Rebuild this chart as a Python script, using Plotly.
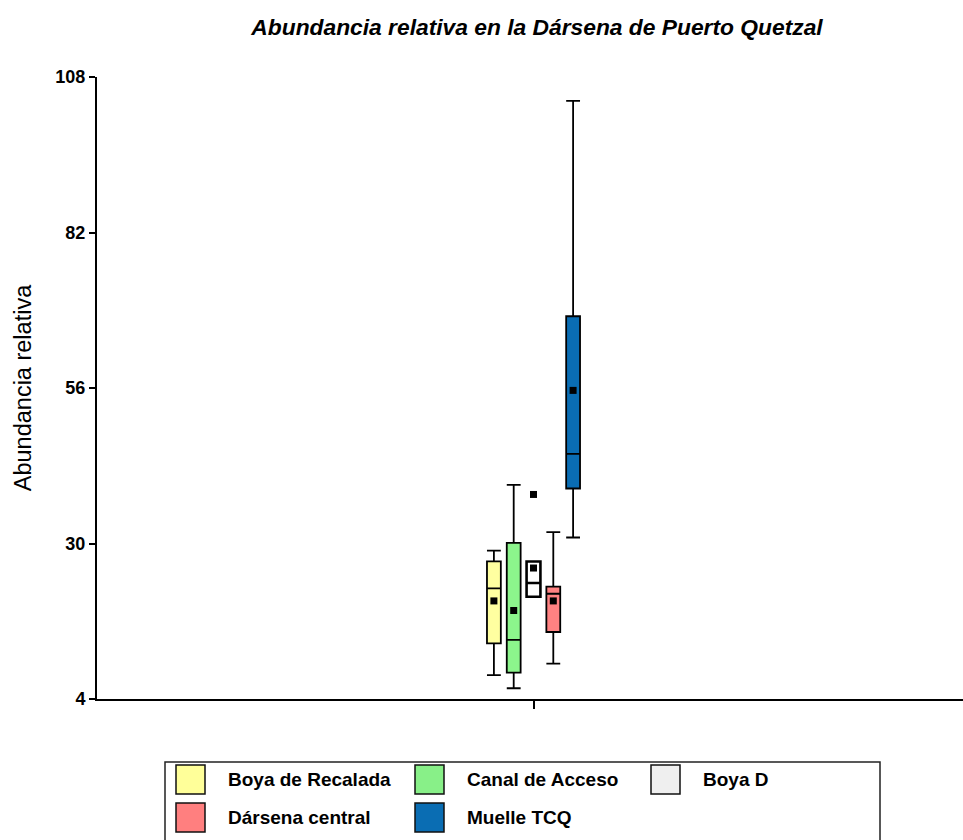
import plotly.graph_objects as go

# ---- data ----
stations = ["Boya de Recalada", "Canal de Acceso", "Boya D", "Dársena central", "Muelle TCQ"]
lower_whisker = [8.0, 5.8, 21.1, 9.9, 31.0]
q1_values = [13.3, 8.4, 21.1, 15.2, 39.2]
median_values = [22.5, 13.9, 23.4, 21.6, 45.0]
q3_values = [27.0, 30.1, 27.0, 22.8, 68.0]
upper_whisker = [28.8, 39.8, 27.0, 31.9, 104.0]
mean_values = [20.4, 18.8, 25.9, 20.4, 55.6]
outlier_stations = ["Boya D"]
outlier_values = [38.2]
y_ticks = [4, 30, 56, 82, 108]

# ---- styles ----
box_colors = ["#FFFFA0", "#8CF58C", "#FFFFFF", "#FF8282", "#0A6DB3"]
legend_colors = ["#FFFF99", "#88F088", "#EFEFEF", "#FF7F7F", "#0A6DB3"]
FONT = "Liberation Sans, Arial, sans-serif"

W, H = 963, 840
ML, MR, MT, MB = 97, 0, 77, 141
PW, PH = W - ML - MR, H - MT - MB


def px_x(p):
    return (p - ML) / PW


def px_y(p):
    return (H - MB - p) / PH


n = len(stations)
positions = [i - (n - 1) / 2 for i in range(n)]
unit_px = 19.8
center_px = 533.5

fig = go.Figure()
for i, st in enumerate(stations):
    fig.add_trace(go.Box(
        x=[positions[i]], q1=[q1_values[i]], median=[median_values[i]], q3=[q3_values[i]],
        lowerfence=[lower_whisker[i]], upperfence=[upper_whisker[i]],
        name=st, width=0.7, whiskerwidth=1.0, boxpoints=False,
        fillcolor=box_colors[i],
        line=dict(color="black", width=2.6 if st == "Boya D" else 1.8),
        showlegend=False, hoverinfo="skip",
    ))

fig.add_trace(go.Scatter(
    x=positions, y=mean_values, mode="markers",
    marker=dict(symbol="square", size=7, color="black"),
    showlegend=False, hoverinfo="skip",
))
fig.add_trace(go.Scatter(
    x=[positions[stations.index(s)] for s in outlier_stations], y=outlier_values, mode="markers",
    marker=dict(symbol="square", size=7, color="black"),
    showlegend=False, hoverinfo="skip",
))

# ---- custom legend (drawn in paper space) ----
shapes = []
annotations = []
shapes.append(dict(type="rect", xref="paper", yref="paper",
                   x0=px_x(165), x1=px_x(880), y0=px_y(762), y1=px_y(860),
                   line=dict(color="#222222", width=1.5), fillcolor="rgba(0,0,0,0)"))
col_x = [176, 415, 651]
row_y = [765, 803]
sw = 29
for i, st in enumerate(stations):
    r, c = divmod(i, 3)
    x0, y0 = col_x[c], row_y[r]
    shapes.append(dict(type="rect", xref="paper", yref="paper",
                       x0=px_x(x0), x1=px_x(x0 + sw), y0=px_y(y0), y1=px_y(y0 + sw),
                       line=dict(color="#111111", width=1.5), fillcolor=legend_colors[i]))
    annotations.append(dict(xref="paper", yref="paper", x=px_x(x0 + 50), y=px_y(y0 + sw / 2),
                            text=st, showarrow=False, xanchor="left", yanchor="middle",
                            font=dict(family=FONT, size=19, color="black", weight="bold")))

fig.update_layout(
    width=W, height=H,
    margin=dict(l=ML, r=MR, t=MT, b=MB),
    paper_bgcolor="white", plot_bgcolor="white",
    title=dict(text="Abundancia relativa en la Dársena de Puerto Quetzal",
               x=px_x(537), xref="paper", xanchor="center", y=1 - 27 / H, yanchor="middle",
               font=dict(family=FONT, size=22.8, color="black", weight="bold", style="italic")),
    shapes=shapes, annotations=annotations,
    showlegend=False,
)
fig.update_xaxes(
    range=[(ML - center_px) / unit_px, (W - MR - center_px) / unit_px],
    tickvals=[0], ticktext=[""], ticks="outside", ticklen=8, tickwidth=1.5, tickcolor="black",
    showline=True, linecolor="black", linewidth=2, showgrid=False, zeroline=False,
)
fig.update_yaxes(
    range=[y_ticks[0], y_ticks[-1]], tickvals=y_ticks, ticks="outside", ticklen=6, tickwidth=1.5,
    tickcolor="black", showline=True, linecolor="black", linewidth=2, showgrid=False, zeroline=False,
    tickfont=dict(family=FONT, size=18, color="black", weight="bold"),
    title=dict(text="Abundancia relativa", standoff=17,
               font=dict(family=FONT, size=23.5, color="black")),
)

fig.write_html("out.html", config={"displayModeBar": False},
               post_script="document.body.style.margin='0px';")
